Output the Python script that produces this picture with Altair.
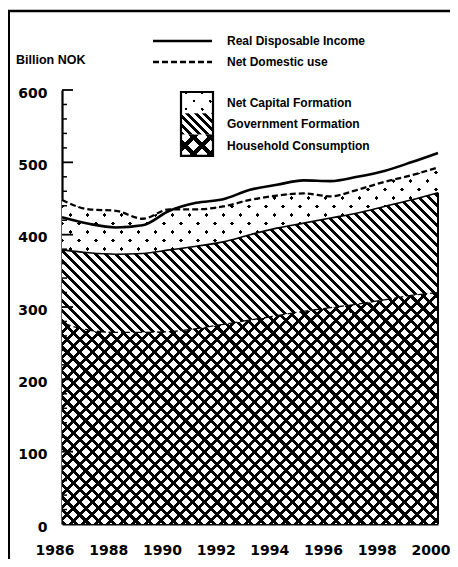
import altair as alt
import pandas as pd

# ---------------- data (billion NOK) ----------------
years = list(range(1986, 2001))
household_consumption = [278, 268, 265, 265, 266, 270, 276, 282, 288, 294, 299, 304, 310, 316, 320]
government_formation = [101, 107, 108, 109, 113, 114, 114, 118, 121, 122, 124, 126, 129, 132, 138]
net_capital_formation = [69, 60, 60, 48, 56, 51, 49, 48, 45, 41, 30, 32, 34, 34, 35]
real_disposable_income = [424, 415, 410, 413, 433, 444, 449, 462, 469, 475, 474, 480, 488, 500, 513]

x_tick_labels = [1986, 1988, 1990, 1992, 1994, 1996, 1998, 2000]
y_tick_labels = [0, 100, 200, 300, 400, 500, 600]
y_minor_ticks = [v for v in range(0, 601, 20) if v % 100 != 0]

line_legend = ["Real Disposable Income", "Net Domestic use"]
area_legend = ["Net Capital Formation", "Government Formation", "Household Consumption"]
y_unit = "Billion NOK"

gov_top = [h + g for h, g in zip(household_consumption, government_formation)]
net_domestic_use = [t + n for t, n in zip(gov_top, net_capital_formation)]

df = pd.DataFrame({
    "year": years,
    "hh": household_consumption,
    "gov_top": gov_top,
    "ndu": net_domestic_use,
    "rdi": real_disposable_income,
})

# ---------------- layout / style ----------------
W, H = 376, 434
YMAX = 600
KY = H / YMAX
FONT = "Liberation Sans"
TICKFONT = "DejaVu Sans"
CLEAR = "rgba(255,255,255,0)"


def hatch(w, h, period, frac, c_on, c_off, kind, phase=0.0):
    """Linear-gradient stripes at 45 degrees inside a w x h bounding box."""
    L = w + h
    s = (w + h) / (w * w + h * h)
    if kind == "back":      # "\" stripes
        x1, y1, x2, y2 = 0, 1, w * s, 1 - h * s
    else:                   # "/" stripes
        x1, y1, x2, y2 = 0, 0, w * s, h * s
    stops = []
    m = -phase * period
    while m < L:
        a = max(m / L, 0.0)
        b = min(max((m + frac * period) / L, 0.0), 1.0)
        c = min((m + period) / L, 1.0)
        stops += [
            {"offset": round(a, 5), "color": c_on},
            {"offset": round(b, 5), "color": c_on},
            {"offset": round(b, 5), "color": c_off},
            {"offset": round(c, 5), "color": c_off},
        ]
        m += period
    return {"gradient": "linear", "x1": x1, "y1": y1, "x2": x2, "y2": y2, "stops": stops}


h_hh = max(household_consumption) * KY
h_gov = (max(gov_top) - min(household_consumption)) * KY
h_ncf = (max(net_domestic_use) - min(gov_top)) * KY

xscale = alt.Scale(domain=[1986, 2000], nice=False, zero=False)
yscale = alt.Scale(domain=[0, YMAX], nice=False, zero=True)

xaxis = alt.Axis(values=x_tick_labels, format="d", title=None, ticks=False, grid=False,
                 domain=True, domainColor="black", domainWidth=2.2,
                 labelFont=TICKFONT, labelFontSize=14, labelFontWeight="bold",
                 labelColor="black", labelPadding=19, labelOffset=-7.5,
                 labelFlush=False, labelOverlap=False, labelBound=False)
yaxis = alt.Axis(values=y_tick_labels, title=None, ticks=False, grid=False,
                 domain=True, domainColor="black", domainWidth=2.2,
                 labelFont=TICKFONT, labelFontSize=14, labelFontWeight="bold",
                 labelColor="black", labelPadding=15, labelOffset=3,
                 labelFlush=False, labelOverlap=False, labelBound=False)


def X():
    return alt.X("year:Q", scale=xscale, axis=xaxis)


def Y(field):
    return alt.Y(field, scale=yscale, axis=yaxis)


base = alt.Chart(df)

# household consumption: cross hatch
hh_a = base.mark_area(interpolate="monotone", opacity=1,
                      fill=hatch(W, h_hh, 12.5, 0.34, "black", "white", "back")).encode(
    x=X(), y=Y("hh:Q"))
hh_b = base.mark_area(interpolate="monotone", opacity=1,
                      fill=hatch(W, h_hh, 12.5, 0.34, "black", CLEAR, "fwd")).encode(
    x=X(), y=Y("hh:Q"))

# government formation: diagonal stripes
gov = base.mark_area(interpolate="monotone", opacity=1,
                     fill=hatch(W, h_gov, 10, 0.42, "black", "white", "back")).encode(
    x=X(), y=Y("gov_top:Q"), y2="hh:Q")

# net capital formation: dots
ncf_a = base.mark_area(interpolate="monotone", opacity=1,
                       fill=hatch(W, h_ncf, 17, 0.2, "black", "white", "back", 0.3)).encode(
    x=X(), y=Y("ndu:Q"), y2="gov_top:Q")
ncf_b = base.mark_area(interpolate="monotone", opacity=1,
                       fill=hatch(W, h_ncf, 17, 0.8, "white", CLEAR, "fwd", 0.6)).encode(
    x=X(), y=Y("ndu:Q"), y2="gov_top:Q")

hh_edge = base.mark_line(interpolate="monotone", color="black", strokeWidth=1.3,
                         strokeDash=[9, 3]).encode(x=X(), y=Y("hh:Q"))
gov_edge = base.mark_line(interpolate="monotone", color="black", strokeWidth=1.6).encode(
    x=X(), y=Y("gov_top:Q"))
right_edge = base.transform_filter(alt.datum.year == years[-1]).transform_calculate(
    zero="0").mark_rule(color="black", strokeWidth=2).encode(
    x=X(), y=Y("gov_top:Q"), y2="zero:Q")

ndu_line = base.mark_line(interpolate="monotone", color="black", strokeWidth=2.3,
                          strokeDash=[6, 3]).encode(x=X(), y=Y("ndu:Q"))
rdi_line = base.mark_line(interpolate="monotone", color="black", strokeWidth=2.6).encode(
    x=X(), y=Y("rdi:Q"))

# inward y ticks
minor = alt.Chart(pd.DataFrame({"v": y_minor_ticks})).mark_rule(
    color="black", strokeWidth=1.5).encode(
    y=Y("v:Q"), x=alt.value(0), x2=alt.value(5))
major = alt.Chart(pd.DataFrame({"v": y_tick_labels[1:]})).mark_rule(
    color="black", strokeWidth=1.8).encode(
    y=Y("v:Q"), x=alt.value(0), x2=alt.value(11))

one = alt.Chart(pd.DataFrame({"a": [0]}))
layers = [hh_a, hh_b, gov, ncf_a, ncf_b, hh_edge, gov_edge, right_edge, ndu_line, rdi_line,
          minor, major]

# frame
layers.append(one.mark_rule(color="black", strokeWidth=3).encode(
    x=alt.value(-53.5), y=alt.value(-80), y2=alt.value(480)))
layers.append(one.mark_rule(color="black", strokeWidth=2.5).encode(
    y=alt.value(-79), x=alt.value(-55), x2=alt.value(400)))

# unit label
layers.append(one.mark_text(font=FONT, fontSize=12.5, fontWeight="bold", align="left",
                            baseline="middle", color="black").encode(
    x=alt.value(-46), y=alt.value(-30), text=alt.value(y_unit)))

# line legend
LX0, LX1, TX = 91, 150, 165
for i, lab in enumerate(line_legend):
    yy = -49 + 21 * i
    kw = {"strokeDash": [6, 3]} if i == 1 else {}
    layers.append(one.mark_rule(color="black", strokeWidth=2.5, **kw).encode(
        x=alt.value(LX0), x2=alt.value(LX1), y=alt.value(yy)))
    layers.append(one.mark_text(font=FONT, fontSize=12, fontWeight="bold", align="left",
                                baseline="middle", color="black").encode(
        x=alt.value(TX), y=alt.value(yy), text=alt.value(lab)))

# pattern legend
BX0, BX1, BY0, BH = 119, 151, 2, 21.3
BW = BX1 - BX0
box_fills = [
    [hatch(BW, BH, 16, 0.2, "black", "white", "back", 0.5),
     hatch(BW, BH, 16, 0.8, "white", CLEAR, "fwd", 0.5)],
    [hatch(BW, BH, 8.5, 0.45, "black", "white", "back")],
    [hatch(BW, BH, 17, 0.33, "black", "white", "back", 0.3),
     hatch(BW, BH, 17, 0.33, "black", CLEAR, "fwd", 0.3)],
]
for i, lab in enumerate(area_legend):
    y0 = BY0 + BH * i
    for f in box_fills[i]:
        layers.append(one.mark_rect(fill=f, opacity=1).encode(
            x=alt.value(BX0), x2=alt.value(BX1), y=alt.value(y0), y2=alt.value(y0 + BH)))
    layers.append(one.mark_text(font=FONT, fontSize=12, fontWeight="bold", align="left",
                                baseline="middle", color="black").encode(
        x=alt.value(TX), y=alt.value(y0 + BH / 2 + 0.5), text=alt.value(lab)))
layers.append(one.mark_rect(fill=CLEAR, stroke="black", strokeWidth=2.2).encode(
    x=alt.value(BX0), x2=alt.value(BX1), y=alt.value(BY0), y2=alt.value(BY0 + 3 * BH)))

chart = alt.layer(*layers).properties(
    width=W, height=H,
    padding={"left": 54, "top": 82, "right": 12, "bottom": 35},
    autosize=alt.AutoSizeParams(type="none"),
    background="white",
).configure_view(strokeWidth=0)

chart.save("out.html", embed_options={"renderer": "svg", "actions": False})
